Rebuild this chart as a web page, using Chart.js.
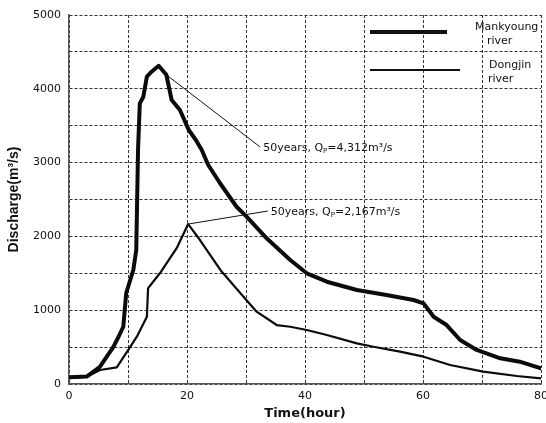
<!DOCTYPE html>
<html><head><meta charset="utf-8">
<script src="https://cdn.jsdelivr.net/npm/chart.js@4.4.0/dist/chart.umd.min.js"></script>
<style>html,body{margin:0;padding:0;background:#fff}</style>
</head><body>
<canvas id="c" width="546" height="423"></canvas>
<script>
// ---- data ----
const mankyoungTime = [0,3,5.25,7.5,8.4,9.2,9.7,10.9,11.4,11.7,12.0,12.6,13.2,14.0,15.2,16.5,17.4,18.8,20.3,21.5,22.5,23.6,25.6,28.4,30.1,33.5,37.5,40.3,43.7,48.8,53.8,58.4,60.1,61.8,64.0,66.3,69.1,73.1,76.4,80];
const mankyoungQ    = [90,100,234,500,640,776,1233,1545,1815,3170,3803,3893,4164,4232,4312,4190,3848,3713,3442,3306,3171,2967,2720,2402,2267,1974,1680,1500,1386,1274,1206,1138,1093,912,799,596,461,348,302,213];
const dongjinTime = [0,3.1,5.25,8.1,10.05,11.5,13.2,13.4,15.4,18.25,20.2,22.2,25.8,29.8,31.8,35.2,37.5,40.3,43.7,48.8,51.6,56.1,60.1,64.6,70.2,75.9,80];
const dongjinQ    = [80,100,190,226,461,641,912,1297,1500,1840,2167,1951,1530,1161,980,799,776,732,664,551,505,438,370,257,167,108,77];
const xTickLabels = [0,20,40,60,80];
const yTickLabels = [0,1000,2000,3000,4000,5000];
const seriesNames = [["Mankyoung","river"],["Dongjin","river"]];
// annotations: point on curve, end of leader line, text pieces
const peakAtX   = [16.5, 20.2];
const peakAtQ   = [4190, 2167];
const labelAtX  = [32.4, 33.7];
const labelAtQ  = [3211, 2344];
const peakValue = ["4,312", "2,167"];

const toPts = (xs, ys) => xs.map((x, i) => ({x, y: ys[i]}));

const annotPlugin = {
  id: 'annot',
  afterDatasetsDraw(chart) {
    const {ctx, scales: {x, y}, chartArea: ca} = chart;
    ctx.save();
    // leader lines and peak labels
    for (let i = 0; i < peakAtX.length; i++) {
      const x0 = x.getPixelForValue(peakAtX[i]), y0 = y.getPixelForValue(peakAtQ[i]);
      const x1 = x.getPixelForValue(labelAtX[i]), y1 = y.getPixelForValue(labelAtQ[i]);
      ctx.strokeStyle = '#111'; ctx.lineWidth = 1; ctx.setLineDash([]);
      ctx.beginPath(); ctx.moveTo(x0, y0); ctx.lineTo(x1, y1); ctx.stroke();
      ctx.fillStyle = '#111'; ctx.textBaseline = 'middle'; ctx.textAlign = 'left';
      let tx = x1 + 3;
      const ty = y1 + 1;
      ctx.font = '11px "DejaVu Sans"';
      const a = '50years, Q';
      ctx.fillText(a, tx, ty); tx += ctx.measureText(a).width;
      ctx.font = '7px "DejaVu Sans"';
      ctx.fillText('P', tx, ty + 3); tx += ctx.measureText('P').width;
      ctx.font = '11px "DejaVu Sans"';
      ctx.fillText('=' + peakValue[i] + 'm³/s', tx, ty);
    }
    // legend
    const lx0 = ca.left + 301;
    const legendLines = [{y: ca.top + 17, x1: ca.left + 378, w: 4}, {y: ca.top + 55, x1: ca.left + 391, w: 2.2}];
    const textX = [[ca.left + 406, ca.left + 418], [ca.left + 420, ca.left + 419]];
    ctx.font = '11px "DejaVu Sans"'; ctx.fillStyle = '#111'; ctx.textBaseline = 'middle';
    legendLines.forEach((l, i) => {
      ctx.strokeStyle = '#111'; ctx.lineWidth = l.w; ctx.lineCap = 'butt';
      ctx.beginPath(); ctx.moveTo(lx0, l.y); ctx.lineTo(l.x1, l.y); ctx.stroke();
      ctx.fillText(seriesNames[i][0], textX[i][0], l.y - 5);
      ctx.fillText(seriesNames[i][1], textX[i][1], l.y + 9);
    });
    ctx.restore();
  }
};

new Chart(document.getElementById('c'), {
  type: 'line',
  data: {
    datasets: [
      {label: seriesNames[0].join(' '), data: toPts(mankyoungTime, mankyoungQ), borderColor: '#0b0b0b', borderWidth: 4, pointRadius: 0, tension: 0, borderJoinStyle: 'round', borderCapStyle: 'round', fill: false},
      {label: seriesNames[1].join(' '), data: toPts(dongjinTime, dongjinQ), borderColor: '#0b0b0b', borderWidth: 2.2, pointRadius: 0, tension: 0, borderJoinStyle: 'round', borderCapStyle: 'round', fill: false}
    ]
  },
  options: {
    responsive: false, animation: false, devicePixelRatio: 1,
    layout: {padding: {top: 15, right: 5, left: 0, bottom: 0}},
    plugins: {legend: {display: false}, tooltip: {enabled: false}},
    scales: {
      x: {
        type: 'linear', min: 0, max: 80,
        afterFit(s) { s.height = 39; s.paddingLeft = 0; s.paddingRight = 0; },
        ticks: {stepSize: 10, autoSkip: false, maxRotation: 0, padding: 6, color: '#111',
          font: {family: 'DejaVu Sans', size: 11},
          callback: v => xTickLabels.includes(v) ? String(v) : ''},
        grid: {color: '#333', lineWidth: 1, drawTicks: false},
        border: {display: true, color: '#555', width: 1.5, dash: [3, 2]},
        title: {display: true, text: 'Time(hour)', color: '#111', font: {family: 'DejaVu Sans', size: 13, weight: 'bold'}, padding: {top: 0, bottom: 2}}
      },
      y: {
        type: 'linear', min: 0, max: 5000,
        afterFit(s) { s.width = 69; s.paddingTop = 0; s.paddingBottom = 0; },
        ticks: {stepSize: 500, autoSkip: false, padding: 8, color: '#111',
          font: {family: 'DejaVu Sans', size: 11},
          callback: v => yTickLabels.includes(v) ? String(v) : ''},
        grid: {color: '#333', lineWidth: 1, drawTicks: false},
        border: {display: true, color: '#555', width: 1.5, dash: [3, 2]},
        title: {display: true, text: 'Discharge(m³/s)', color: '#111', font: {family: 'Liberation Sans', size: 14, weight: 'bold'}, padding: {top: 6, bottom: 0}}
      }
    }
  },
  plugins: [annotPlugin]
});
</script>
</body></html>
